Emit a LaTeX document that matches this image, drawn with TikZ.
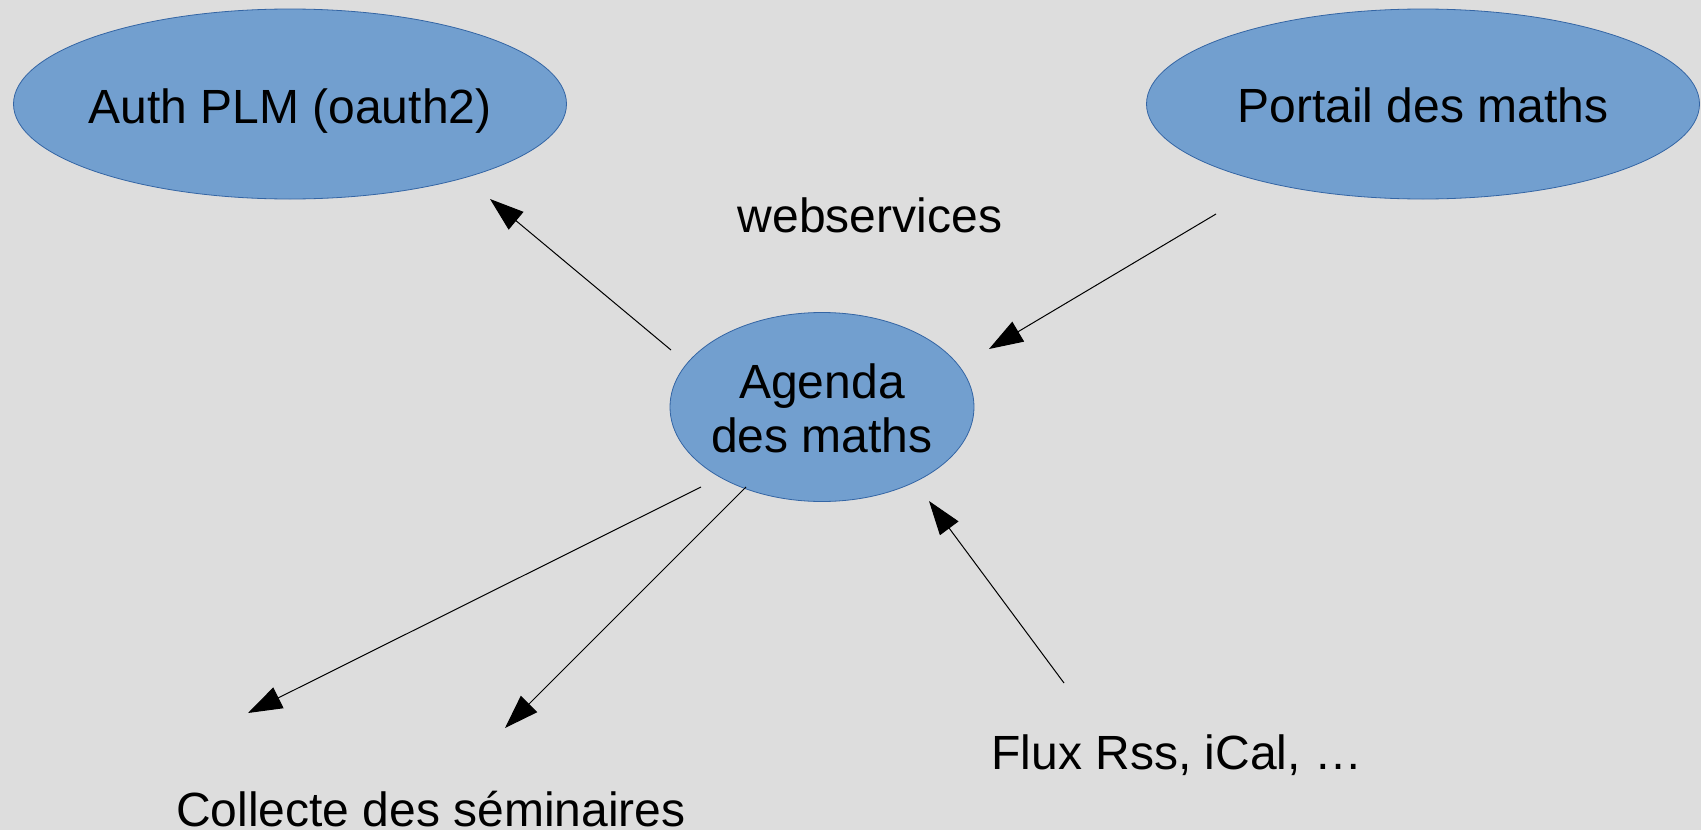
\documentclass[tikz,border=0pt]{standalone}
\usepackage{fontspec}
\setmainfont{Liberation Sans}
\usetikzlibrary{shapes.geometric,arrows.meta}
\definecolor{bg}{HTML}{DDDDDD}
\definecolor{ellfill}{HTML}{729FCF}
\definecolor{elldraw}{HTML}{3465A4}
\newcommand{\zt}[2]{\makebox[0pt][c]{\raisebox{#1}[0pt][0pt]{#2}}}
\tikzset{
  bubble/.style={ellipse, fill=ellfill, draw=elldraw, line width=0.8pt, inner sep=0pt, outer sep=0pt, font=\fontsize{48}{52}\selectfont},
  lbl/.style={inner sep=0pt, align=center, font=\fontsize{48}{52}\selectfont},
  conn/.style={draw=black, line width=1pt, -{Triangle[length=34pt,width=23pt]}}
}
\begin{document}
\begin{tikzpicture}[x=1pt,y=-1pt]
\fill[bg] (0,0) rectangle (1701,830);
\useasboundingbox (0,0) rectangle (1701,830);
\node[bubble, minimum width=553pt, minimum height=190pt] (auth) at (290,104) {\zt{-19pt}{Auth PLM (oauth2)}};
\node[bubble, minimum width=553pt, minimum height=190pt] (portail) at (1423,104) {\zt{-18pt}{Portail des maths}};
\node[bubble, minimum width=304pt, minimum height=189pt] (agenda) at (822,407) {\zt{9pt}{\begin{tabular}[t]{@{}c@{}}Agenda\\[2pt]des maths\end{tabular}}};
\node[lbl] (ws) at (870,215) {webservices};
\node[lbl] (flux) at (1177,755) {Flux Rss, iCal, …};
\node[lbl] (collecte) at (431,809) {Collecte des séminaires};
\coordinate (a1s) at (671,350); \coordinate (a1e) at (490,199);
\coordinate (a2s) at (1216,214); \coordinate (a2e) at (989,349);
\coordinate (a3s) at (701,487); \coordinate (a3e) at (248,713);
\coordinate (a4s) at (746,487); \coordinate (a4e) at (505,728);
\coordinate (a5s) at (1064,683); \coordinate (a5e) at (929,501);
\draw[conn] (a1s) -- (a1e);
\draw[conn] (a2s) -- (a2e);
\draw[conn] (a3s) -- (a3e);
\draw[conn] (a4s) -- (a4e);
\draw[conn] (a5s) -- (a5e);
\end{tikzpicture}
\end{document}
